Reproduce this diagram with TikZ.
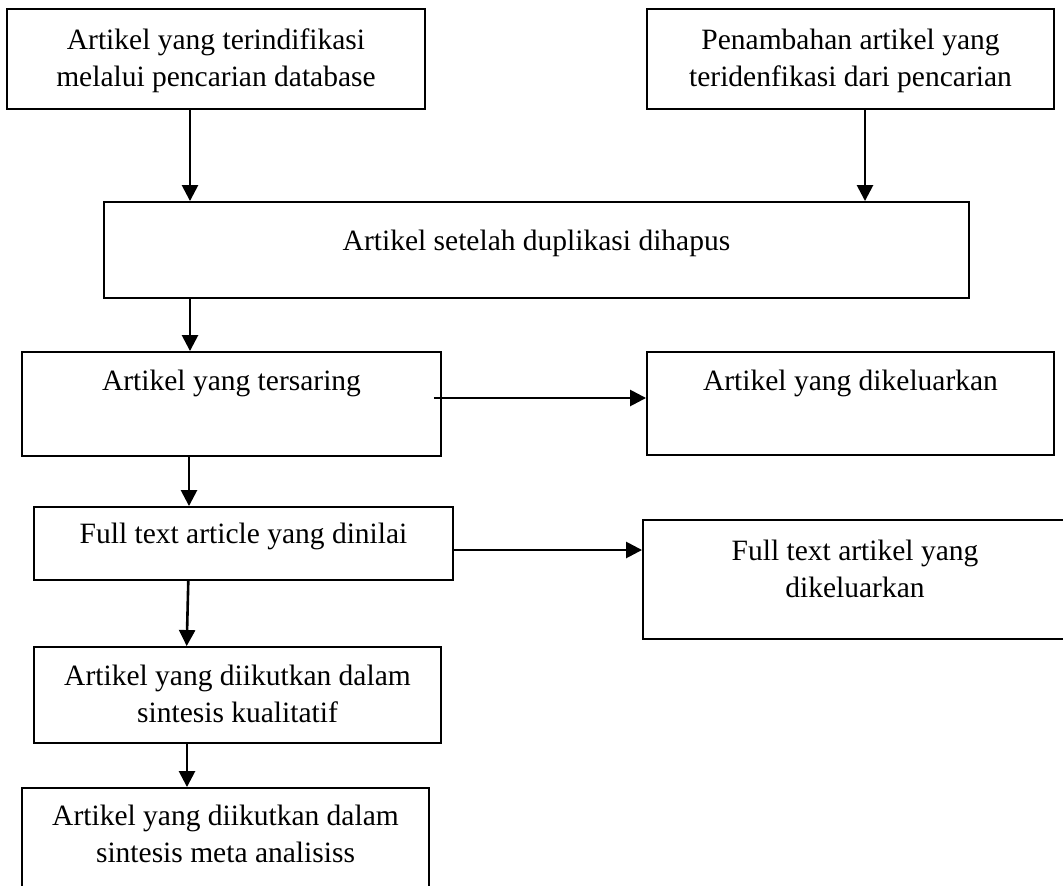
\documentclass[tikz,border=0pt]{standalone}
\usepackage{fontspec}
\setmainfont{Liberation Serif}
\usetikzlibrary{arrows.meta}
\tikzset{
  boxnode/.style={draw=black, line width=1.9pt, inner sep=0pt, rectangle},
  txt/.style={align=center, anchor=base, inner sep=0pt, font=\fontsize{29.5}{37}\selectfont},
  arr/.style={draw=black, line width=2.6pt, -{Triangle[length=16pt,width=16pt]}}
}
\begin{document}
\begin{tikzpicture}[x=1pt,y=-1pt]
\useasboundingbox (0,0) rectangle (1063,886);
% boxes
\node[boxnode, minimum width=418pt, minimum height=100pt] (b1) at (216,59) {};
\node[boxnode, minimum width=407pt, minimum height=100pt] (b2) at (850.5,59) {};
\node[boxnode, minimum width=865pt, minimum height=96pt] (b3) at (536.5,250) {};
\node[boxnode, minimum width=419pt, minimum height=104pt] (b4) at (231.5,404) {};
\node[boxnode, minimum width=407pt, minimum height=103pt] (b5) at (850.5,403.5) {};
\node[boxnode, minimum width=419pt, minimum height=73pt] (b6) at (243.5,543.5) {};
\node[boxnode, minimum width=424pt, minimum height=119pt] (b7) at (855,579.5) {};
\node[boxnode, minimum width=407pt, minimum height=96pt] (b8) at (237.5,695) {};
\node[boxnode, minimum width=407pt, minimum height=112pt] (b9) at (225.5,844) {};
% texts (base anchor = last line's baseline)
\node[txt] (t1) at (216,86) {Artikel yang terindifikasi\\melalui pencarian database};
\node[txt] (t2) at (850.5,86) {Penambahan artikel yang\\teridenfikasi dari pencarian};
\node[txt] (t3) at (536.5,250) {Artikel setelah duplikasi dihapus};
\node[txt] (t4) at (231.5,390) {Artikel yang tersaring};
\node[txt] (t5) at (850.5,390) {Artikel yang dikeluarkan};
\node[txt] (t6) at (243.5,543) {Full text article yang dinilai};
\node[txt] (t7) at (855,597) {Full text artikel yang\\dikeluarkan};
\node[txt] (t8) at (237.5,722) {Artikel yang diikutkan dalam\\sintesis kualitatif};
\node[txt] (t9) at (225.5,862) {Artikel yang diikutkan dalam\\sintesis meta analisiss};
% connector guide coordinates
\coordinate (xa) at (190,0);
\coordinate (xb) at (865,0);
\coordinate (xc) at (189,0);
\coordinate (xd) at (188.3,0);
\coordinate (xe) at (186.7,0);
\coordinate (xf) at (187,0);
\coordinate (y45) at (0,398);
\coordinate (y67) at (0,550);
% connectors
\draw[arr] (b1.south -| xa) -- (b3.north -| xa);
\draw[arr] (b2.south -| xb) -- (b3.north -| xb);
\draw[arr] (b3.south -| xa) -- (b4.north -| xa);
\draw[arr] ([xshift=-8pt]b4.east |- y45) -- (b5.west |- y45);
\draw[arr] (b4.south -| xc) -- (b6.north -| xc);
\draw[arr] (b6.east |- y67) -- (b7.west |- y67);
\draw[arr] (b6.south -| xd) -- (b8.north -| xe);
\draw[arr] (b8.south -| xf) -- (b9.north -| xf);
\end{tikzpicture}
\end{document}
